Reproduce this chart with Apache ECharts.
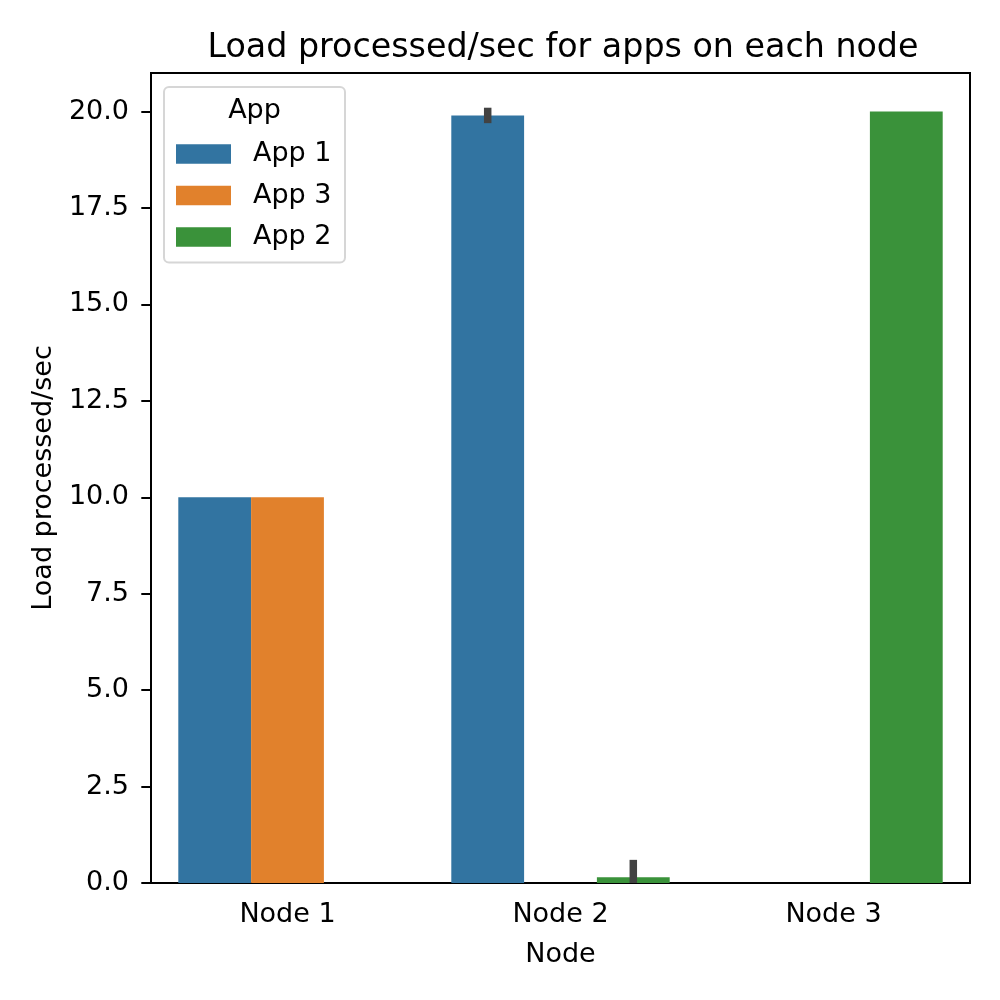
<!DOCTYPE html>
<html>
<head>
<meta charset="utf-8">
<script src="https://cdn.jsdelivr.net/npm/echarts@6/dist/echarts.min.js"></script>
<style>html,body{margin:0;padding:0;background:#fff;}#c{width:1000px;height:1000px;}</style>
</head>
<body>
<div id="c"></div>
<script>
const categories = ['Node 1', 'Node 2', 'Node 3'];
const hueNames = ['App 1', 'App 3', 'App 2'];
const app1Values = [10, 19.9, null];
const app3Values = [10, null, null];
const app2Values = [null, 0.15, 20];
// error bars: [category index, low, high, hue index]
const errorBars = [
  [1, 19.7, 20.1, 0],
  [1, 0.0, 0.6, 2]
];
const yTicks = [0, 2.5, 5, 7.5, 10, 12.5, 15, 17.5, 20];
const colors = ['#3274a1', '#e1812c', '#3a923a'];

const FONT = 'DejaVu Sans';
const chart = echarts.init(document.getElementById('c'), null, {renderer: 'canvas'});

const barSeries = [app1Values, app3Values, app2Values].map((vals, i) => ({
  name: hueNames[i],
  type: 'bar',
  data: vals.map(v => v === null ? '-' : v),
  barGap: '0%',
  barCategoryGap: '20%',
  itemStyle: {color: colors[i]},
  emphasis: {disabled: true},
  z: 2
}));

const option = {
  animation: false,
  backgroundColor: '#fff',
  title: {
    text: 'Load processed/sec for apps on each node',
    left: 558,
    top: 27,
    textAlign: 'center',
    textStyle: {fontFamily: FONT, fontSize: 33.3, fontWeight: 'normal', color: '#000'}
  },
  grid: {
    left: 151, right: 30, top: 73, bottom: 117,
    show: true, borderColor: '#000', borderWidth: 2, backgroundColor: 'transparent'
  },
  legend: {
    orient: 'vertical',
    left: 176,
    top: 140,
    padding: 0,
    itemWidth: 55,
    itemHeight: 19.5,
    itemGap: 13.5,
    icon: 'rect',
    data: hueNames,
    textStyle: {fontFamily: FONT, fontSize: 27, color: '#000', lineHeight: 28, padding: [0, 0, 0, 17]},
    z: 10
  },
  xAxis: {
    type: 'category',
    data: categories,
    name: 'Node',
    nameLocation: 'middle',
    nameGap: 58,
    nameTextStyle: {fontFamily: FONT, fontSize: 27, color: '#000'},
    axisLine: {lineStyle: {color: '#000', width: 2}},
    axisTick: {alignWithLabel: true, length: 9.7, lineStyle: {color: '#000', width: 2}},
    axisLabel: {fontFamily: FONT, fontSize: 27, color: '#000', margin: 18},
    splitLine: {show: false}
  },
  yAxis: {
    type: 'value',
    min: 0,
    max: 21,
    interval: 2.5,
    name: 'Load processed/sec',
    nameLocation: 'middle',
    nameGap: 94,
    nameTextStyle: {fontFamily: FONT, fontSize: 27, color: '#000'},
    axisLine: {show: true, lineStyle: {color: '#000', width: 2}},
    axisTick: {show: true, length: 9.7, lineStyle: {color: '#000', width: 2}, customValues: yTicks},
    axisLabel: {fontFamily: FONT, fontSize: 27, color: '#000', margin: 22, customValues: yTicks,
      formatter: v => Number(v).toFixed(1)},
    splitLine: {show: false}
  },
  graphic: [
    {
      type: 'rect',
      z: 5,
      shape: {x: 164, y: 87, width: 181, height: 175.5, r: 5},
      style: {fill: 'rgba(255,255,255,0.8)', stroke: '#d6d6d6', lineWidth: 2}
    },
    {
      type: 'text',
      z: 6,
      x: 254.5,
      y: 110.5,
      style: {text: 'App', fontFamily: FONT, fontSize: 27, fill: '#000', align: 'center', verticalAlign: 'middle'}
    }
  ],
  series: barSeries.concat([{
    type: 'custom',
    data: errorBars,
    encode: {x: 0, y: [1, 2]},
    z: 3,
    silent: true,
    renderItem: function (params, api) {
      const cat = api.value(0);
      const lo = api.coord([cat, api.value(1)]);
      const hi = api.coord([cat, api.value(2)]);
      const band = api.size([1, 0])[0];
      const slot = band * 0.8 / 3;
      const x = lo[0] + (api.value(3) - 1) * slot;
      return {
        type: 'line',
        shape: {x1: x, y1: lo[1], x2: x, y2: hi[1]},
        style: {stroke: '#424242', lineWidth: 7.5, lineCap: 'butt'}
      };
    }
  }])
};
chart.setOption(option);
</script>
</body>
</html>
